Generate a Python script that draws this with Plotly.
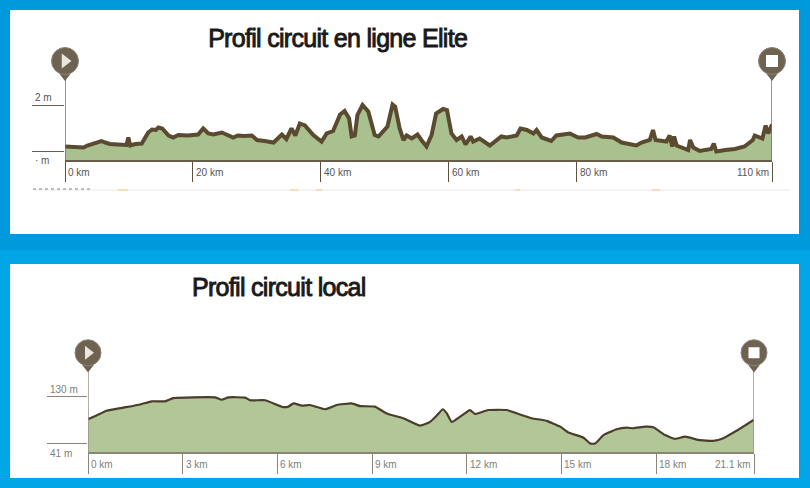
import plotly.graph_objects as go

# Data
elite_km = [0, 1.4, 2.9, 3.5, 4.2, 5.0, 5.7, 6.3, 7.0, 8.2, 9.6, 9.9, 10.2, 11.0, 12.0, 12.5, 13.0, 13.6, 14.2, 14.6, 15.2, 16.2, 16.9, 17.7,
            19.2, 20.8, 21.6, 22.4, 23.2, 24.5, 25.4, 26.3, 27.0, 28.0, 29.2, 30.0, 31.2, 32.6, 33.9, 34.6, 35.4, 36.0, 36.7, 37.5, 38.8, 40.1,
            40.9, 41.9, 43.0, 43.7, 44.4, 44.8, 45.3, 45.7, 46.5, 47.4, 48.4, 49.0, 50.4, 51.2, 51.6, 52.3, 52.9, 53.4, 54.2, 55.1, 55.7, 56.5,
            57.3, 58.0, 59.1, 59.7, 60.4, 61.2, 62.0, 62.6, 63.4, 63.8, 64.8, 66.4, 68.2, 69.0, 70.6, 71.2, 72.2, 73.2, 73.7, 74.5, 76.0, 76.8,
            78.9, 80.2, 81.3, 83.1, 83.9, 85.7, 87.0, 89.3, 90.1, 91.4, 91.9, 92.3, 94.0, 94.5, 94.9, 95.2, 95.6, 97.4, 97.7, 98.2, 99.2, 101.0,
            101.4, 101.8, 103.2, 104.7, 106.2, 107.5, 107.8, 109.0, 109.5, 109.9, 110.5]
elite_m = [49, 48, 47, 51, 54, 57, 60, 57, 54, 53, 52, 67, 51, 54, 55, 66, 77, 83, 82, 87, 85, 71, 67, 72,
           71, 73, 85, 75, 73, 77, 71, 67, 71, 70, 71, 62, 60, 57, 73, 64, 85, 71, 95, 91, 72, 59,
           75, 80, 113, 120, 105, 69, 71, 112, 132, 119, 72, 69, 89, 133, 129, 85, 62, 71, 65, 73, 62, 49,
           72, 115, 124, 122, 75, 62, 69, 53, 69, 59, 65, 51, 69, 67, 71, 85, 82, 75, 82, 67, 60, 71,
           75, 67, 67, 74, 69, 67, 57, 51, 57, 62, 82, 62, 59, 71, 49, 69, 51, 42, 62, 47, 40, 44,
           55, 39, 42, 44, 49, 62, 71, 65, 91, 75, 93]
elite_ticks = [0, 20, 40, 60, 80, 110.5]
elite_tick_labels = ["0 km", "20 km", "40 km", "60 km", "80 km", "110 km"]
elite_alt_ticks = [132, 40]
elite_alt_labels = ["2 m", "\u00b7 m"]

local_km = [0, 0.27, 0.59, 1.12, 1.65, 2.02, 2.44, 2.70, 3.34, 4.02, 4.24, 4.45, 4.98, 5.13, 5.61, 6.19, 6.35, 6.51, 6.77,
            7.03, 7.51, 7.88, 8.35, 8.62, 9.09, 9.46, 9.99, 10.52, 10.84, 11.05, 11.24, 11.37, 11.52, 11.79, 12.1, 12.26,
            12.68, 13.26, 13.69, 14.06, 14.53, 14.96, 15.22, 15.7, 15.91, 16.07, 16.33, 16.75, 17.07, 17.28, 17.65, 17.91,
            18.28, 18.6, 18.92, 19.34, 19.81, 20.13, 20.45, 20.6, 21.1]
local_m = [86, 93, 102, 108, 114, 120, 120, 126, 127.5, 127.5, 123, 127.5, 127, 122, 122, 109, 110, 116, 112,
           113, 105, 113, 116, 111, 110, 97, 88, 74, 81, 93, 105, 97, 81, 91, 103.5, 96,
           103.5, 103.5, 95, 88, 83, 72, 61, 51, 40, 40, 56, 67, 70, 69, 72, 71,
           56, 49, 53, 47, 45, 50, 61, 66, 85]
local_ticks = [0, 3, 6, 9, 12, 15, 18, 21.1]
local_tick_labels = ["0 km", "3 km", "6 km", "9 km", "12 km", "15 km", "18 km", "21.1 km"]
local_alt_ticks = [130, 41]
local_alt_labels = ["130 m", "41 m"]

W, H = 810, 488
BROWN = "#5a4a30"
PIN = "#6e6250"


def px(x):
    return x / W


def py(y):
    return 1 - y / H


fig = go.Figure()

# top profile
fig.add_trace(go.Scatter(x=elite_km, y=elite_m, mode="lines", fill="tozeroy", fillcolor="#a9c08f",
                         line=dict(color=BROWN, width=4), xaxis="x", yaxis="y", showlegend=False))
# bottom profile
fig.add_trace(go.Scatter(x=local_km, y=local_m, mode="lines", fill="tozeroy", fillcolor="#b2c697",
                         line=dict(color="#4a3d2a", width=2.2, shape="spline", smoothing=0.4),
                         xaxis="x2", yaxis="y2", showlegend=False))

# start and finish pins with their poles
for xa, ya, x0, x1, base, top, tail, head, r, s, pole in [("x", "y", 0, 110.5, 22, 190, 190, 220, 27, 13, "#7a6f5f"),
                                                          ("x2", "y2", 0, 21.1, 24, 184, 184, 212, 26, 12, "#9a9588")]:
    for xv in [x0, x1]:
        fig.add_trace(go.Scatter(x=[xv, xv], y=[base, top], mode="lines", xaxis=xa, yaxis=ya, cliponaxis=False,
                                 line=dict(color=pole, width=1.5), showlegend=False))
    fig.add_trace(go.Scatter(x=[x0, x1], y=[tail, tail], mode="markers", xaxis=xa, yaxis=ya, cliponaxis=False,
                             marker=dict(symbol="triangle-down", size=10, color=PIN), showlegend=False))
    fig.add_trace(go.Scatter(x=[x0, x1], y=[head, head], mode="markers", xaxis=xa, yaxis=ya, cliponaxis=False,
                             marker=dict(symbol="circle", size=r, color=PIN, line=dict(color="#8d8475", width=1)),
                             showlegend=False))
    fig.add_trace(go.Scatter(x=[x0], y=[head], mode="markers", xaxis=xa, yaxis=ya, cliponaxis=False,
                             marker=dict(symbol="triangle-right", size=s, color="#e9e6df"), showlegend=False))
    fig.add_trace(go.Scatter(x=[x1], y=[head], mode="markers", xaxis=xa, yaxis=ya, cliponaxis=False,
                             marker=dict(symbol="square", size=s - 1, color="white"), showlegend=False))

fig.update_layout(
    width=W, height=H, margin=dict(l=0, r=0, t=0, b=0),
    paper_bgcolor="#0099dc", plot_bgcolor="rgba(0,0,0,0)",
    showlegend=False,
    xaxis=dict(domain=[px(65), px(772)], range=[0, 110.5], tickvals=elite_ticks, showticklabels=False,
               ticks="outside", ticklen=20, tickcolor="#5d5040", tickwidth=1, showgrid=False, zeroline=False,
               showline=True, linecolor="#6a5c48", linewidth=1.5, anchor="y"),
    yaxis=dict(domain=[py(160), py(45)], range=[22, 252], tickvals=elite_alt_ticks, showticklabels=False,
               ticks="outside", ticklen=32, tickcolor="#6a5c48", tickwidth=1, showgrid=False, zeroline=False,
               showline=False, anchor="x"),
    xaxis2=dict(domain=[px(88), px(754)], range=[0, 21.1], tickvals=local_ticks, showticklabels=False,
                ticks="outside", ticklen=20, tickcolor="#8a8578", tickwidth=1, showgrid=False, zeroline=False,
                showline=True, linecolor="#8a8578", linewidth=1.5, anchor="y2"),
    yaxis2=dict(domain=[py(452), py(335)], range=[24, 245.6], tickvals=local_alt_ticks, showticklabels=False,
                ticks="outside", ticklen=40, tickcolor="#8a8578", tickwidth=1, showgrid=False, zeroline=False,
                showline=False, anchor="x2"),
)

# white panels and scan remains
shapes = [
    dict(type="rect", xref="paper", yref="paper", x0=0, x1=1, y0=0, y1=py(250), fillcolor="#00a5e6", line_width=0, layer="below"),
    dict(type="rect", xref="paper", yref="paper", x0=px(10), x1=px(799), y0=py(234), y1=py(10), fillcolor="white", line_width=0, layer="below"),
    dict(type="rect", xref="paper", yref="paper", x0=px(10), x1=px(799), y0=py(478), y1=py(264), fillcolor="white", line_width=0, layer="below"),
    dict(type="line", xref="paper", yref="paper", x0=px(33), x1=px(790), y0=py(190), y1=py(190), line=dict(color="#e8e8e4", width=1), layer="below"),
    dict(type="line", xref="paper", yref="paper", x0=px(33), x1=px(90), y0=py(189), y1=py(189), line=dict(color="#aaaaaa", width=1.5, dash="dot"), layer="below"),
]
for a, b in [(118, 128), (290, 298), (316, 322), (515, 520), (652, 660)]:
    shapes.append(dict(type="line", xref="paper", yref="paper", x0=px(a), x1=px(b), y0=py(190), y1=py(190),
                       line=dict(color="#f0d8a0", width=1.5), layer="below"))
fig.update_layout(shapes=shapes)

# titles
fig.add_annotation(text="Profil circuit en ligne Elite", xref="paper", yref="paper", x=px(337), y=py(38),
                   xanchor="center", yanchor="middle", showarrow=False,
                   font=dict(family="Liberation Sans", size=25, color="#1a1a1a"))
fig.add_annotation(text="Profil circuit local", xref="paper", yref="paper", x=px(279), y=py(287),
                   xanchor="center", yanchor="middle", showarrow=False,
                   font=dict(family="Liberation Sans", size=25, color="#1a1a1a"))

# distance labels beside the ticks
for xa, ya, base, ticks, labels, color in [("x", "y", 22, elite_ticks, elite_tick_labels, "#555555"),
                                           ("x2", "y2", 24, local_ticks, local_tick_labels, "#808078")]:
    for i, (t, lab) in enumerate(zip(ticks, labels)):
        last = i == len(ticks) - 1
        fig.add_annotation(text=lab, x=t, y=base, xref=xa, yref=ya, showarrow=False, yshift=-12,
                           xanchor="right" if last else "left", xshift=-1 if last else 1,
                           font=dict(family="Liberation Sans", size=10, color=color))

# altitude labels
for ya, x0, ticks, labels, shifts, color in [("y", 33, elite_alt_ticks, elite_alt_labels, [7, -9], "#555555"),
                                             ("y2", 48, local_alt_ticks, local_alt_labels, [7, -10], "#808078")]:
    for t, lab, sh in zip(ticks, labels, shifts):
        fig.add_annotation(text=lab, x=px(x0), y=t, xref="paper", yref=ya, showarrow=False, yshift=sh,
                           xanchor="left", font=dict(family="Liberation Sans", size=10, color=color))

# tighter, heavier title lettering like the printed one
post = """
document.body.style.margin='0';
document.querySelectorAll('.annotation-text').forEach(function (t) {
  if (t.textContent.indexOf('Profil') === 0) {
    t.style.letterSpacing = '-0.7px';
    t.style.stroke = '#1a1a1a';
    t.style.strokeWidth = '0.9px';
  }
});
"""
fig.write_html("out.html", post_script=post, config={"displayModeBar": False})
